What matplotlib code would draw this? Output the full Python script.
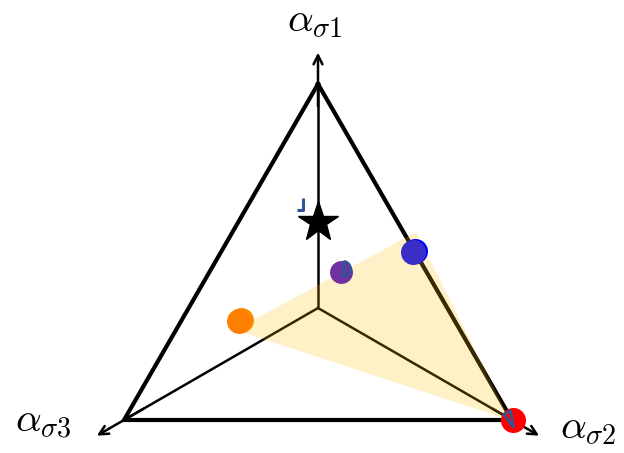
import numpy as np
import matplotlib
matplotlib.use("Agg")
import matplotlib.pyplot as plt
from matplotlib.path import Path
from matplotlib.patches import Polygon

plt.rcParams['mathtext.fontset'] = 'cm'

# weights (a1, a2, a3) on the three axes
axis_labels = [r'$\alpha_{\sigma1}$', r'$\alpha_{\sigma2}$', r'$\alpha_{\sigma3}$']
star_w = (0.59, 0.205, 0.205)
purple_w = (0.44, 0.34, 0.22)
blue_w = [(0.503, 0.499, -0.002), (0.50, 0.495, 0.005)]
orange_w = [(0.298, 0.152, 0.55), (0.295, 0.148, 0.557)]
red_w = (0.0, 1.0, 0.0)
region_w = [(0.268, 0.152, 0.58), (0.559, 0.473, -0.032), (0.0, 0.995, 0.005)]

SQ = np.sqrt(3) / 2


def to_xy(w):
    a1, a2, a3 = w
    return SQ * (a2 - a3), a1 - 0.5 * (a2 + a3)


def glyph(verts, codes=None):
    # small outline drawn around a point, verts in pixels relative to it
    verts = np.asarray(verts, float)
    ms = 2 * np.abs(verts).max() * 0.72
    return Path(verts, codes), ms


fig = plt.figure(figsize=(6.24, 4.53), dpi=100)
ax = fig.add_axes([0, 0, 1, 1])
s = 224.0
ax.set_xlim(-318 / s, (624 - 318) / s)
ax.set_ylim(-(453 - 308) / s, 308 / s)
ax.axis('off')

verts = [to_xy(w) for w in [(1, 0, 0), (0, 1, 0), (0, 0, 1)]]
tri = np.array(verts + [verts[0]])
ax.plot(tri[:, 0], tri[:, 1], color='black', lw=3.0, zorder=2, solid_joinstyle='miter')

# axes from the centre out past each corner
for (vx, vy) in verts:
    ax.plot([0, vx], [0, vy], color='black', lw=1.8, zorder=1)
    ax.annotate('', xy=(1.14 * vx, 1.14 * vy), xytext=(vx * 0.9, vy * 0.9),
                arrowprops=dict(arrowstyle='->', lw=1.8, color='black',
                                mutation_scale=16, shrinkA=0, shrinkB=0), zorder=1)

label_pos = [(-0.013, 1.236), (1.205, -0.58), (-1.228, -0.554)]
for lab, (lx, ly) in zip(axis_labels, label_pos):
    ax.text(lx, ly, lab, fontsize=29, ha='center', va='baseline')

region = Polygon([to_xy(w) for w in region_w], closed=True, facecolor='#FFC000',
                 alpha=0.22, edgecolor='none', zorder=3)
ax.add_patch(region)

for w, c in zip(orange_w, ['#FF8C00', '#FF7F00']):
    x, y = to_xy(w)
    ax.plot(x, y, 'o', ms=18, color=c, mec='none', zorder=5)
for w, c in zip(blue_w, ['#0000FF', '#3A2DC8']):
    x, y = to_xy(w)
    ax.plot(x, y, 'o', ms=18, color=c, mec='none', zorder=5)
x, y = to_xy(red_w)
ax.plot(x + 0.006, y, 'o', ms=18, color='#FF0000', mec='none', zorder=5)
x, y = to_xy(purple_w)
ax.plot(x, y, 'o', ms=16.5, color='#7030A0', mec='none', zorder=5)
x, y = to_xy(star_w)
ax.plot(x, y, '*', ms=30, color='black', zorder=5)

edge_blue = '#2F5597'
# corner mark beside the star
p, ms = glyph([(-15, 24), (-15, 12), (-21, 12)])
x, y = to_xy(star_w)
ax.plot(x, y, marker=p, ms=ms, mfc='none', mec=edge_blue, mew=2.2, ls='none', zorder=4)

# half ring beside the purple point
t = np.linspace(-np.pi / 2, np.pi / 2, 20)
arc = [(2, 11), (2, -4)] + [(2 + 7 * np.cos(a), 3.5 + 7.5 * np.sin(a)) for a in t]
p, ms = glyph(arc)
x, y = to_xy(purple_w)
ax.plot(x, y, marker=p, ms=ms, mfc='none', mec=edge_blue, mew=2.0, ls='none', zorder=6)

# triangle outline on the red point
p, ms = glyph([(-8.7, 6.2), (-1.7, 9.5), (0.7, -6.5), (-8.7, 6.2)])
x, y = to_xy(red_w)
ax.plot(x, y, marker=p, ms=ms, mfc='none', mec=edge_blue, mew=2.0, ls='none', zorder=6)

fig.savefig('out.png', dpi=100)
